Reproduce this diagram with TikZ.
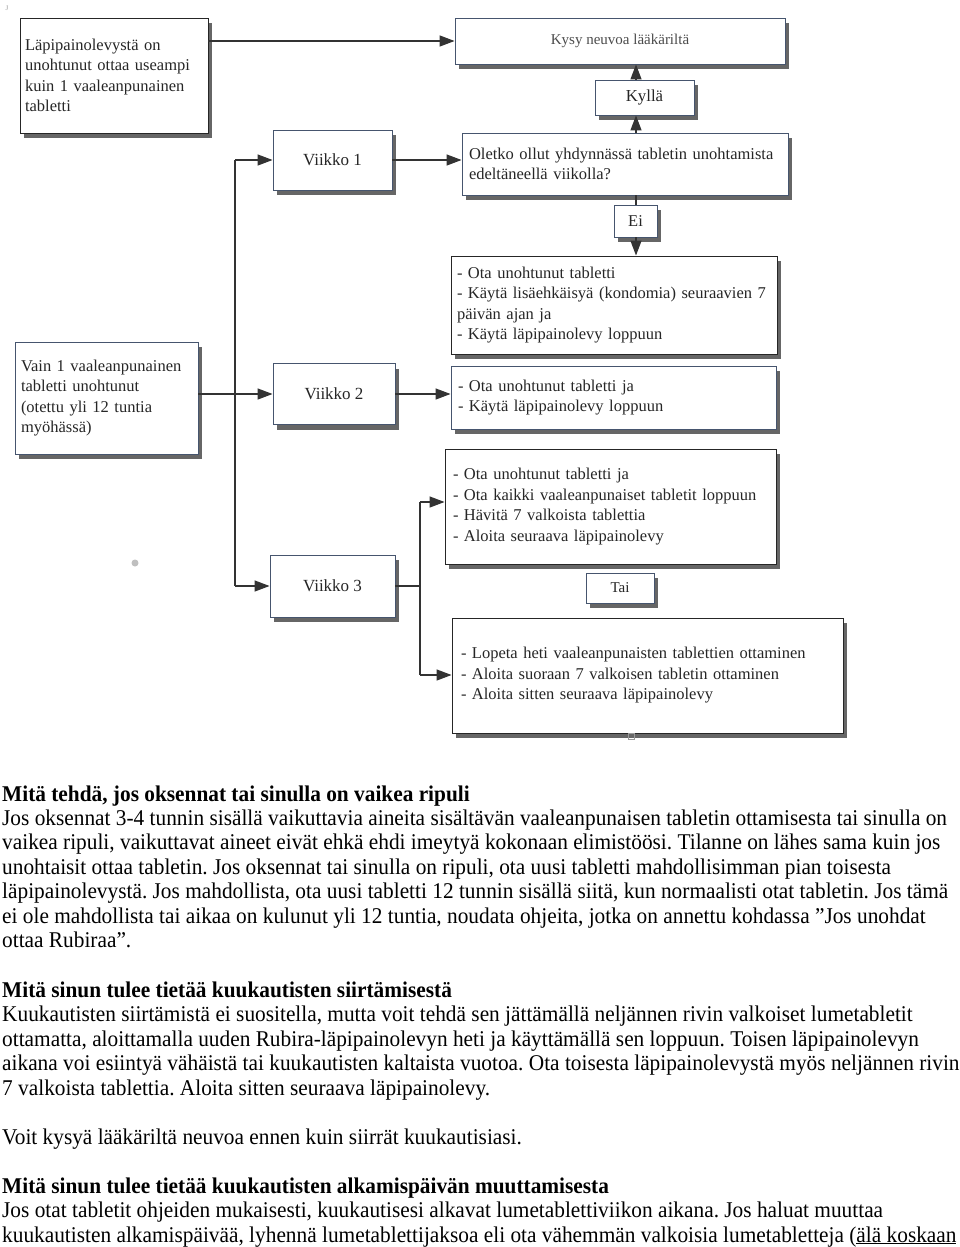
\documentclass[tikz,border=0pt]{standalone}
\usepackage{fontspec}
\setmainfont{Liberation Serif}
\newfontfamily\bodyfont[FakeStretch=0.948]{Liberation Serif}
\usetikzlibrary{arrows.meta,shadows}
\frenchspacing
\tikzset{
 box/.style={draw=black!85, line width=0.9pt, fill=white,
   drop shadow={shadow xshift=4pt,shadow yshift=-5pt,opacity=0.6,fill=black},
   inner sep=0pt, font=\fontsize{16.5}{20.5}\selectfont, text=black!85},
 bbox/.style={box, draw={rgb,255:red,70;green,85;blue,110}},
 arr/.style={-{Triangle[length=15pt,width=11pt]}, line width=1.3pt, draw=black!80},
 ln/.style={line width=1.3pt, draw=black!80},
 para/.style={anchor=base west, inner sep=0pt, font=\bodyfont\fontsize{22.5}{24}\selectfont},
 head/.style={anchor=base west, inner sep=0pt, font=\bodyfont\bfseries\fontsize{22.5}{24}\selectfont},
}
\begin{document}
\begin{tikzpicture}[x=1pt,y=-1pt]
\useasboundingbox (0,0) rectangle (960,1247);
\fill[white] (0,0) rectangle (960,1247);

\node[text=black!40, font=\fontsize{7}{8}\selectfont, inner sep=0pt] (jmark) at (7,8) {J};

% boxes
\node[box, minimum width=188, minimum height=115, text width=178, align=left] (A) at (114,75.5)
  {Läpipainolevystä on\\unohtunut ottaa useampi\\kuin 1 vaaleanpunainen\\tabletti};
\node[bbox, minimum width=330, minimum height=46, font=\fontsize{15}{17}\selectfont, text=black!70] (Kysy) at (620,41) {Kysy neuvoa lääkäriltä};
\node[bbox, minimum width=99, minimum height=35, font=\fontsize{16.8}{18}\selectfont] (Kylla) at (644.5,97.5) {Kyllä};
\node[bbox, minimum width=326, minimum height=62, text width=312, align=left] (Oletko) at (625,164)
  {Oletko ollut yhdynnässä tabletin unohtamista\\edeltäneellä viikolla?};
\node[bbox, minimum width=43, minimum height=32] (Ei) at (635.5,221) {Ei};
\node[box, minimum width=326, minimum height=98, text width=314, align=left] (B1) at (614,305)
  {- Ota unohtunut tabletti\\- Käytä lisäehkäisyä (kondomia) seuraavien 7\\päivän ajan ja\\- Käytä läpipainolevy loppuun};
\node[bbox, minimum width=325, minimum height=63, text width=311, align=left] (B2) at (613.5,397.5)
  {- Ota unohtunut tabletti ja\\- Käytä läpipainolevy loppuun};
\node[box, minimum width=331, minimum height=115, text width=315, align=left] (B3) at (610.5,506.5)
  {- Ota unohtunut tabletti ja\\- Ota kaikki vaaleanpunaiset tabletit loppuun\\- Hävitä 7 valkoista tablettia\\- Aloita seuraava läpipainolevy};
\node[bbox, minimum width=68, minimum height=30, font=\fontsize{15}{16}\selectfont] (Tai) at (620,588) {Tai};
\node[box, minimum width=391, minimum height=115, text width=373, align=left] (B4) at (647.5,675.5)
  {- Lopeta heti vaaleanpunaisten tablettien ottaminen\\- Aloita suoraan 7 valkoisen tabletin ottaminen\\- Aloita sitten seuraava läpipainolevy};
\node[bbox, minimum width=119, minimum height=60, font=\fontsize{17}{18}\selectfont] (V1) at (332.5,160) {Viikko 1};
\node[bbox, minimum width=122, minimum height=61, font=\fontsize{17}{18}\selectfont] (V2) at (334,394) {Viikko 2};
\node[bbox, minimum width=125, minimum height=62, font=\fontsize{17}{18}\selectfont] (V3) at (332.5,586) {Viikko 3};
\node[bbox, minimum width=183, minimum height=112, text width=171, align=left] (Vain) at (106.5,398)
  {Vain 1 vaaleanpunainen\\tabletti unohtunut\\(otettu yli 12 tuntia\\myöhässä)};

\fill[black!25] (135,563) circle (3.5);
\draw[black!40, line width=0.6pt] (628,733) rectangle (634,739);

% connectors
\draw[arr] (A.east |- Kysy.west) -- (Kysy.west);
\coordinate (tA) at (235,160);
\coordinate (tB) at (235,586);
\draw[ln] (tA) -- (tB);
\draw[arr] (tA) -- (V1.west);
\draw[arr] (tB) -- (V3.west);
\draw[arr] (Vain.east |- V2.west) -- (V2.west);
\draw[arr] (V1.east) -- (Oletko.west |- V1.east);
\coordinate (cx) at (636,0);
\draw[arr] (Oletko.north -| cx) -- (Kylla.south -| cx);
\draw[arr] (Kylla.north -| cx) -- (Kysy.south -| cx);
\draw[ln] (Oletko.south -| cx) -- (Ei.north -| cx);
\draw[arr] (Ei.south -| cx) -- (B1.north -| cx);
\draw[arr] (V2.east) -- (B2.west |- V2.east);
\coordinate (br) at (420,0);
\coordinate (b3) at (420,502);
\coordinate (b4) at (420,675);
\draw[ln] (V3.east) -- (V3.east -| br);
\draw[ln] (b3) -- (b4);
\draw[arr] (b3) -- (B3.west |- b3);
\draw[arr] (b4) -- (B4.west |- b4);

% text
\node[head] (h1) at (2,801) {Mitä tehdä, jos oksennat tai sinulla on vaikea ripuli};
\node[para] (p1) at (2,825) {Jos oksennat 3-4 tunnin sisällä vaikuttavia aineita sisältävän vaaleanpunaisen tabletin ottamisesta tai sinulla on};
\node[para] (p2) at (2,849.5) {vaikea ripuli, vaikuttavat aineet eivät ehkä ehdi imeytyä kokonaan elimistöösi. Tilanne on lähes sama kuin jos};
\node[para] (p3) at (2,874) {unohtaisit ottaa tabletin. Jos oksennat tai sinulla on ripuli, ota uusi tabletti mahdollisimman pian toisesta};
\node[para] (p4) at (2,898.5) {läpipainolevystä. Jos mahdollista, ota uusi tabletti 12 tunnin sisällä siitä, kun normaalisti otat tabletin. Jos tämä};
\node[para] (p5) at (2,923) {ei ole mahdollista tai aikaa on kulunut yli 12 tuntia, noudata ohjeita, jotka on annettu kohdassa ”Jos unohdat};
\node[para] (p6) at (2,947.5) {ottaa Rubiraa”.};
\node[head] (h2) at (2,997) {Mitä sinun tulee tietää kuukautisten siirtämisestä};
\node[para] (q1) at (2,1021) {Kuukautisten siirtämistä ei suositella, mutta voit tehdä sen jättämällä neljännen rivin valkoiset lumetabletit};
\node[para] (q2) at (2,1046) {ottamatta, aloittamalla uuden Rubira-läpipainolevyn heti ja käyttämällä sen loppuun. Toisen läpipainolevyn};
\node[para] (q3) at (2,1070) {aikana voi esiintyä vähäistä tai kuukautisten kaltaista vuotoa. Ota toisesta läpipainolevystä myös neljännen rivin};
\node[para] (q4) at (2,1095) {7 valkoista tablettia. Aloita sitten seuraava läpipainolevy.};
\node[para] (q5) at (2,1144) {Voit kysyä lääkäriltä neuvoa ennen kuin siirrät kuukautisiasi.};
\node[head] (h3) at (2,1193) {Mitä sinun tulee tietää kuukautisten alkamispäivän muuttamisesta};
\node[para] (r1) at (2,1217) {Jos otat tabletit ohjeiden mukaisesti, kuukautisesi alkavat lumetablettiviikon aikana. Jos haluat muuttaa};
\node[para] (r2) at (2,1242) {kuukautisten alkamispäivää, lyhennä lumetablettijaksoa eli ota vähemmän valkoisia lumetabletteja (\underline{älä koskaan}};
\end{tikzpicture}
\end{document}
